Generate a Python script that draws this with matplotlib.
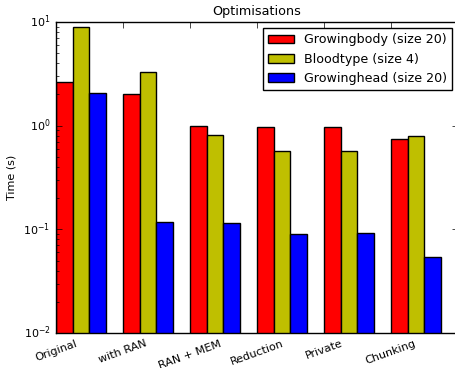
import matplotlib
matplotlib.use("Agg")
import matplotlib.pyplot as plt
import numpy as np

plt.style.use("classic")

categories = ["Original", "with RAN", "RAN + MEM", "Reduction", "Private", "Chunking"]
growingbody = [2.66, 2.04, 0.985, 0.97, 0.97, 0.744]
bloodtype = [8.87, 3.32, 0.806, 0.565, 0.565, 0.796]
growinghead = [2.05, 0.118, 0.115, 0.0895, 0.0915, 0.0542]
series_labels = ["Growingbody (size 20)", "Bloodtype (size 4)", "Growinghead (size 20)"]

fig = plt.figure(figsize=(4.56, 3.68), dpi=100)
ax = fig.add_axes([56 / 456, 35 / 368, 402 / 456, 311 / 368])

x = np.arange(len(categories))
w = 0.25
ax.bar(x, growingbody, w, color="r", label=series_labels[0], align="edge")
ax.bar(x + w, bloodtype, w, color="y", label=series_labels[1], align="edge")
ax.bar(x + 2 * w, growinghead, w, color="b", label=series_labels[2], align="edge")

ax.set_yscale("log")
ax.set_ylim(0.01, 10)
ax.set_xlim(0, 6)
ax.set_xticks(x)
ax.set_xticklabels(categories, rotation=20, ha="center", fontsize=8)
ax.tick_params(axis="y", labelsize=8)
ax.set_ylabel("Time (s)", fontsize=8)
ax.set_title("Optimisations", fontsize=9.2)
ax.legend(loc="upper right", fontsize=9.1)

fig.savefig("out.png", dpi=100)
